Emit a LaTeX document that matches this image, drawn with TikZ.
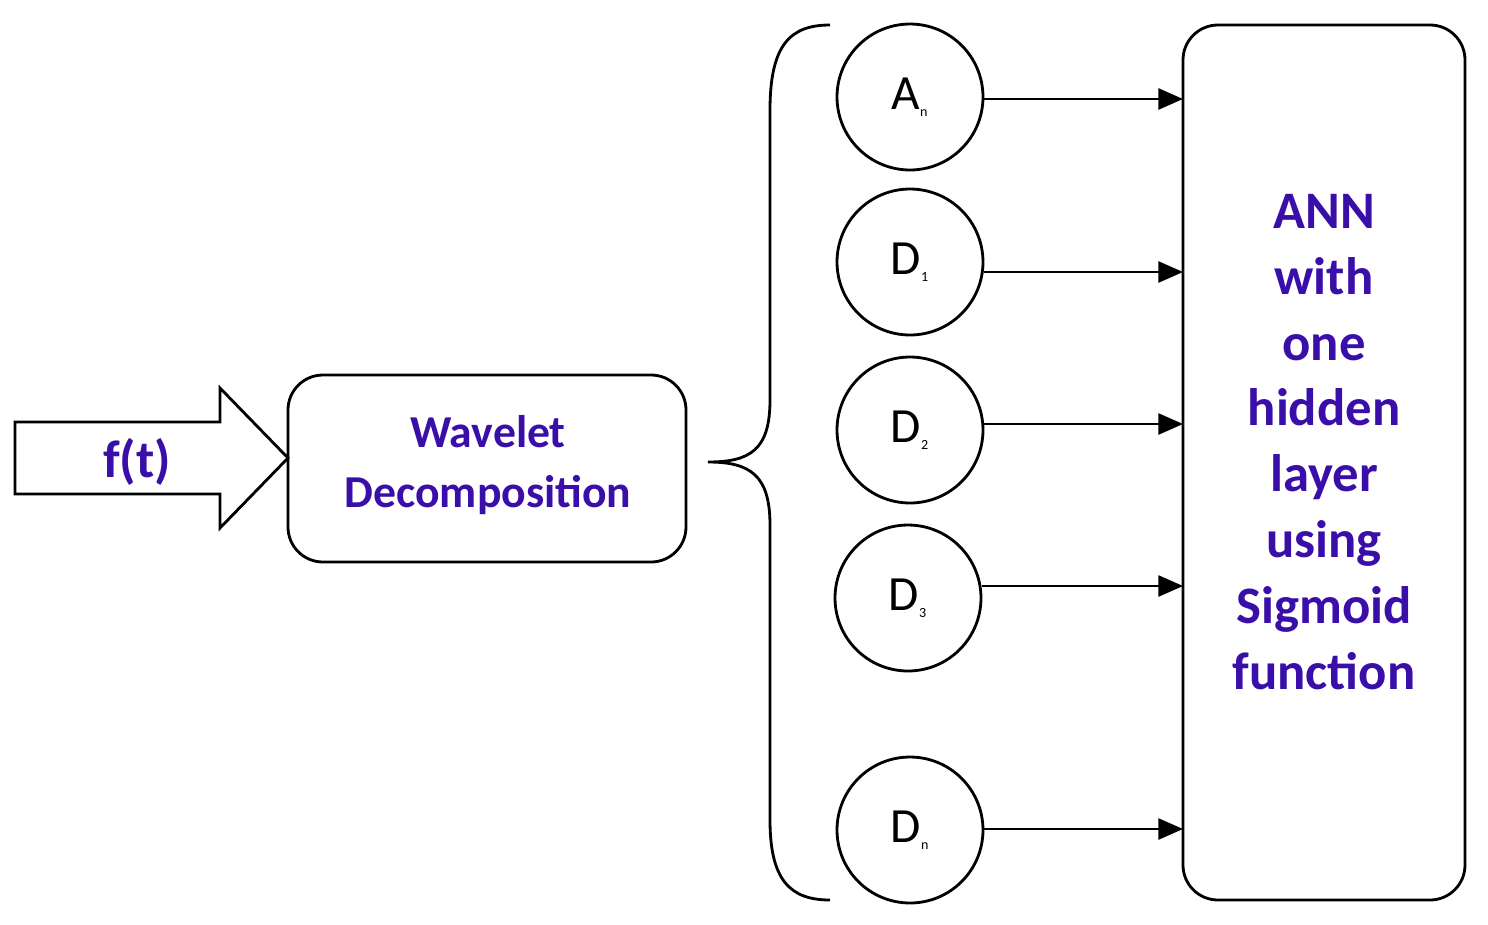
\documentclass[tikz,border=0pt]{standalone}
\usepackage{fontspec}
\setmainfont{Carlito}
\usetikzlibrary{arrows.meta}
\definecolor{tx}{HTML}{3A0EA8}
\begin{document}
\begin{tikzpicture}[x=0.02cm,y=-0.02cm,line width=1.6pt,
  circ/.style={draw,circle,minimum size=2.92cm,inner sep=0pt,font=\fontsize{28}{30}\selectfont},
  box/.style={draw,rounded corners=0.7cm},
  lbl/.style 2 args={text=tx,font=\bfseries\fontsize{#1}{#2}\selectfont,align=center}]
\tikzset{arr/.style={-{Triangle[length=14pt,width=12pt]},line width=1.3pt}}
\useasboundingbox (0,0) rectangle (1488,924);
\draw[line join=miter] (15,422) -- (220,422) -- (220,388) -- (288,458) -- (220,528) -- (220,494) -- (15,494) -- cycle;
\node[lbl={30}{36}] (f) at (137,462) {f(t)};
\draw[box] (288,375) rectangle (686,562);
\node[lbl={26}{34},text width=7.6cm] (w) at (488,465) {Wavelet\\Decomposition};
\draw (830,25) .. controls (790,25) and (770,45) .. (770,110) -- (770,400) .. controls (770,450) and (750,462) .. (708,462)
      .. controls (750,462) and (770,475) .. (770,525) -- (770,820) .. controls (770,880) and (790,900) .. (830,900);
\draw[box] (1183,25) rectangle (1465,900);
\node[lbl={30}{37.5},text width=5.4cm] (ann) at (1324,442) {ANN\\with\\one\\hidden\\layer\\using\\Sigmoid\\function};
\node[circ] (an) at (910,97) {A\textsubscript{\footnotesize n}};
\node[circ] (d1) at (910,262) {D\textsubscript{\footnotesize 1}};
\node[circ] (d2) at (910,430) {D\textsubscript{\footnotesize 2}};
\node[circ] (d3) at (908,598) {D\textsubscript{\footnotesize 3}};
\node[circ] (dn) at (910,830) {D\textsubscript{\footnotesize n}};
\coordinate (bx) at (1183,0);
\foreach \n/\a in {an/2,d1/10,d2/-6,d3/-12,dn/-1}
  \draw[arr] ([yshift=-\a*0.02cm]\n.east) -- ([yshift=-\a*0.02cm]\n.east -| bx);
\end{tikzpicture}
\end{document}
